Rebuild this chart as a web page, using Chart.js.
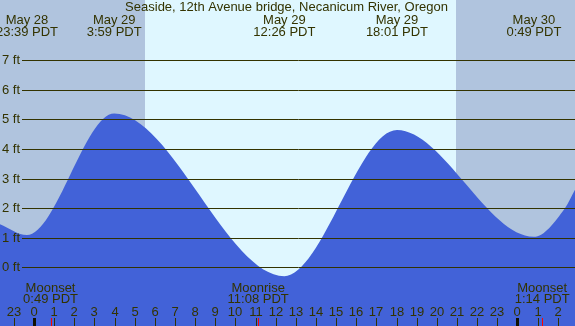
<!DOCTYPE html>
<html>
<head>
<meta charset="utf-8">
<script src="https://cdn.jsdelivr.net/npm/chart.js@4/dist/chart.umd.min.js"></script>
<style>
  html, body { margin: 0; padding: 0; background: #b0c4de; }
  #wrap { width: 575px; height: 326px; position: relative; }
</style>
</head>
<body>
<div id="wrap"><canvas id="tide"></canvas></div>
<script>
// hours counted from May 29 00:00 PDT
const tideHours = [-1.69, -0.35, 3.98, 12.43, 18.02, 24.82, 26.36, 26.86];
const tideFeet  = [1.46, 1.09, 5.2, -0.3, 4.64, 1.03, 2.0, 2.62];

const extremeHours  = [-0.35, 3.98, 12.43, 18.02, 24.82];
const extremeDates  = ["May 28", "May 29", "May 29", "May 29", "May 30"];
const extremeTimes  = ["23:39 PDT", "3:59 PDT", "12:26 PDT", "18:01 PDT", "0:49 PDT"];

const moonHours  = [0.82, 11.13, 25.23];
const moonNames  = ["Moonset", "Moonrise", "Moonset"];
const moonTimes  = ["0:49 PDT", "11:08 PDT", "1:14 PDT"];

const sunrise = 5.51;
const sunset = 20.95;

const feetTicks = [0, 1, 2, 3, 4, 5, 6, 7];
const hourTicks = [-1, 0, 1, 2, 3, 4, 5, 6, 7, 8, 9, 10, 11, 12, 13, 14, 15, 16, 17, 18, 19, 20, 21, 22, 23, 24, 25, 26];
const midnights = [0, 24];

const title = "Seaside, 12th Avenue bridge, Necanicum River, Oregon";

const INK = "#333300";
const FONT = "13px 'Liberation Sans', Arial, sans-serif";

/* BACKGROUND: night / day */
const skyPlugin = {
  id: "sky",
  beforeDraw(chart) {
    const { ctx, scales: { x } } = chart;
    const w = chart.width, h = chart.height;
    ctx.save();
    ctx.fillStyle = "#b0c4de";
    ctx.fillRect(0, 0, w, h);
    const x1 = Math.round(x.getPixelForValue(sunrise));
    const x2 = Math.round(x.getPixelForValue(sunset));
    ctx.fillStyle = "#dff7ff";
    ctx.fillRect(x1, 0, x2 - x1, h);
    ctx.restore();
  }
};

/* GRID, LABELS, TICKS */
const overlayPlugin = {
  id: "overlay",
  afterDatasetsDraw(chart) {
    const { ctx, scales: { x, y } } = chart;
    const w = chart.width, h = chart.height;
    ctx.save();
    ctx.font = FONT;
    ctx.fillStyle = INK;
    ctx.strokeStyle = INK;
    ctx.lineWidth = 1;

    // feet lines
    ctx.textBaseline = "middle";
    ctx.textAlign = "left";
    feetTicks.forEach(f => {
      const py = Math.round(y.getPixelForValue(f)) + 0.5;
      ctx.beginPath();
      ctx.moveTo(22, py);
      ctx.lineTo(w, py);
      ctx.stroke();
      ctx.fillText(f + " ft", 2, py);
    });

    // title
    ctx.textAlign = "center";
    ctx.fillText(title, w / 2 - 1, 7);

    // high / low labels
    extremeHours.forEach((hr, i) => {
      const px = x.getPixelForValue(hr);
      ctx.fillText(extremeDates[i], px, 20);
      ctx.fillText(extremeTimes[i], px, 32);
    });

    // moon labels
    moonHours.forEach((hr, i) => {
      const px = x.getPixelForValue(hr);
      ctx.fillText(moonNames[i], px, 288);
      ctx.fillText(moonTimes[i], px, 299);
    });

    // hour labels and ticks
    hourTicks.forEach(hr => {
      const px = Math.round(x.getPixelForValue(hr));
      const lbl = ((hr % 24) + 24) % 24;
      ctx.fillText(String(lbl), px, 312);
      ctx.fillRect(px, 318, 1, h - 318);
    });
    ctx.fillStyle = "#111100";
    midnights.forEach(hr => {
      const px = Math.round(x.getPixelForValue(hr));
      ctx.fillRect(px - 1, 318, 3, h - 318);
    });
    ctx.fillStyle = "#ff0000";
    moonHours.forEach(hr => {
      const px = Math.round(x.getPixelForValue(hr));
      ctx.fillRect(px, 318, 1, h - 318);
    });
    ctx.restore();
  }
};

new Chart(document.getElementById("tide"), {
  type: "line",
  data: {
    datasets: [{
      data: tideHours.map((hr, i) => ({ x: hr, y: tideFeet[i] })),
      fill: "start",
      backgroundColor: "#4262d8",
      borderWidth: 0,
      borderColor: "rgba(0,0,0,0)",
      pointRadius: 0,
      cubicInterpolationMode: "monotone"
    }]
  },
  options: {
    responsive: true,
    maintainAspectRatio: false,
    animation: false,
    layout: { padding: 0 },
    plugins: { legend: { display: false }, tooltip: { enabled: false } },
    scales: {
      x: { type: "linear", min: -1.69, max: 26.86, display: false },
      y: { min: -1.985, max: 9.04, display: false }
    }
  },
  plugins: [skyPlugin, overlayPlugin]
});
</script>
</body>
</html>
